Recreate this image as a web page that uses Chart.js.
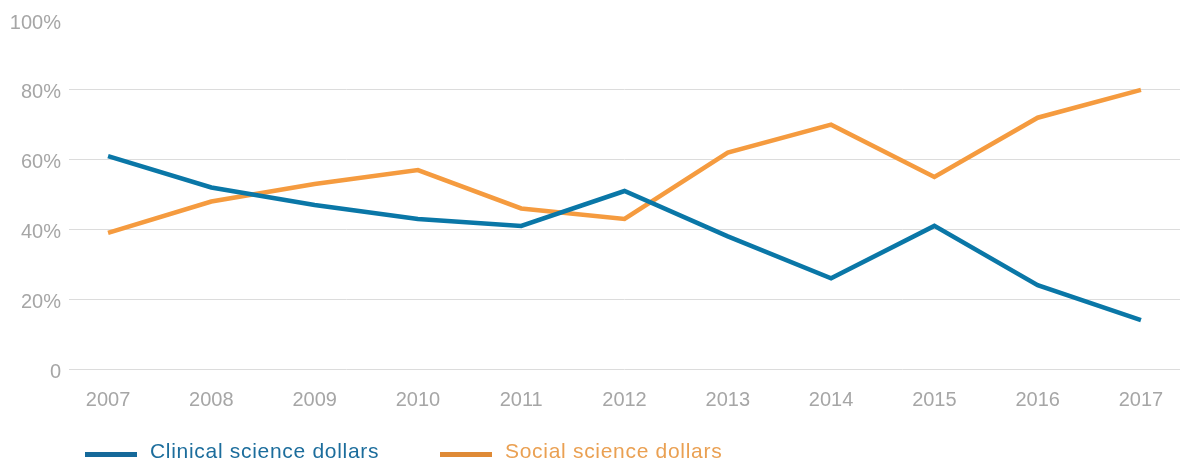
<!DOCTYPE html>
<html>
<head>
<meta charset="utf-8">
<script src="https://cdn.jsdelivr.net/npm/chart.js@4.4.1/dist/chart.umd.min.js"></script>
<style>
  html, body { margin: 0; padding: 0; background: #fff; }
  #wrap { position: relative; width: 1191px; height: 461px; }
  #c { position: absolute; left: 0; top: 0; }
  .lg { position: absolute; top: 438px; height: 26px; font-family: "Liberation Sans", Arial, sans-serif; font-size: 21px; letter-spacing: 0.7px; line-height: 26px; white-space: nowrap; }
  .lg .sw { position: absolute; left: 0; top: 14px; width: 52px; height: 5px; }
  .lg .tx { position: absolute; left: 65px; top: 0; }
</style>
</head>
<body>
<div id="wrap">
  <canvas id="c" width="1191" height="461"></canvas>
  <div id="legend"></div>
</div>
<script>
const years = [2007, 2008, 2009, 2010, 2011, 2012, 2013, 2014, 2015, 2016, 2017];
const clinical = [61, 52, 47, 43, 41, 51, 38, 26, 41, 24, 14];
const social = [39, 48, 53, 57, 46, 43, 62, 70, 55, 72, 80];
const seriesNames = ["Clinical science dollars", "Social science dollars"];
const yTicks = [0, 20, 40, 60, 80, 100];

const lineColors = ["#0a77a7", "#f59b3f"];
const legendSwatch = ["#15699a", "#df8a36"];
const legendText = ["#1c6d9c", "#eaa052"];
const gray = "#a6a6a6";
const fontFam = "'Liberation Sans', Arial, sans-serif";

const ctx = document.getElementById('c').getContext('2d');
const chart = new Chart(ctx, {
  type: 'line',
  data: {
    datasets: [
      { label: seriesNames[0], data: years.map((y, i) => ({ x: y, y: clinical[i] })),
        borderColor: lineColors[0], borderWidth: 4.5, pointRadius: 0, tension: 0, fill: false },
      { label: seriesNames[1], data: years.map((y, i) => ({ x: y, y: social[i] })),
        borderColor: lineColors[1], borderWidth: 4.5, pointRadius: 0, tension: 0, fill: false }
    ]
  },
  options: {
    responsive: false,
    animation: false,
    layout: { padding: { top: 20, right: 11, left: 0, bottom: 0 } },
    plugins: { legend: { display: false }, tooltip: { enabled: false } },
    scales: {
      x: {
        type: 'linear',
        min: 2007 - 0.378,
        max: 2017 + 0.378,
        grid: { display: false },
        border: { display: false },
        afterBuildTicks: s => { s.ticks = years.map(v => ({ value: v })); },
        afterFit: s => { s.height = 92; },
        ticks: {
          padding: 11,
          color: gray,
          font: { family: fontFam, size: 20 },
          callback: v => String(v),
          maxRotation: 0,
          autoSkip: false
        }
      },
      y: {
        min: 0, max: 100,
        afterBuildTicks: s => { s.ticks = yTicks.map(v => ({ value: v })); },
        afterFit: s => { s.width = 69; },
        grid: {
          drawTicks: false,
          color: c => (c.tick && c.tick.value === 100) ? 'rgba(0,0,0,0)' : '#dcdcdc',
          lineWidth: 1
        },
        border: { display: false },
        ticks: {
          padding: 8,
          labelOffset: 3,
          color: gray,
          font: { family: fontFam, size: 20 },
          callback: v => v === 0 ? '0' : v + '%'
        }
      }
    }
  }
});

// HTML legend built from dataset labels
const lg = document.getElementById('legend');
const lefts = [85, 440];
chart.data.datasets.forEach((ds, i) => {
  const d = document.createElement('div');
  d.className = 'lg';
  d.style.left = lefts[i] + 'px';
  d.innerHTML = '<span class="sw" style="background:' + legendSwatch[i] + '"></span><span class="tx" style="color:' + legendText[i] + '">' + ds.label + '</span>';
  lg.appendChild(d);
});
</script>
</body>
</html>
